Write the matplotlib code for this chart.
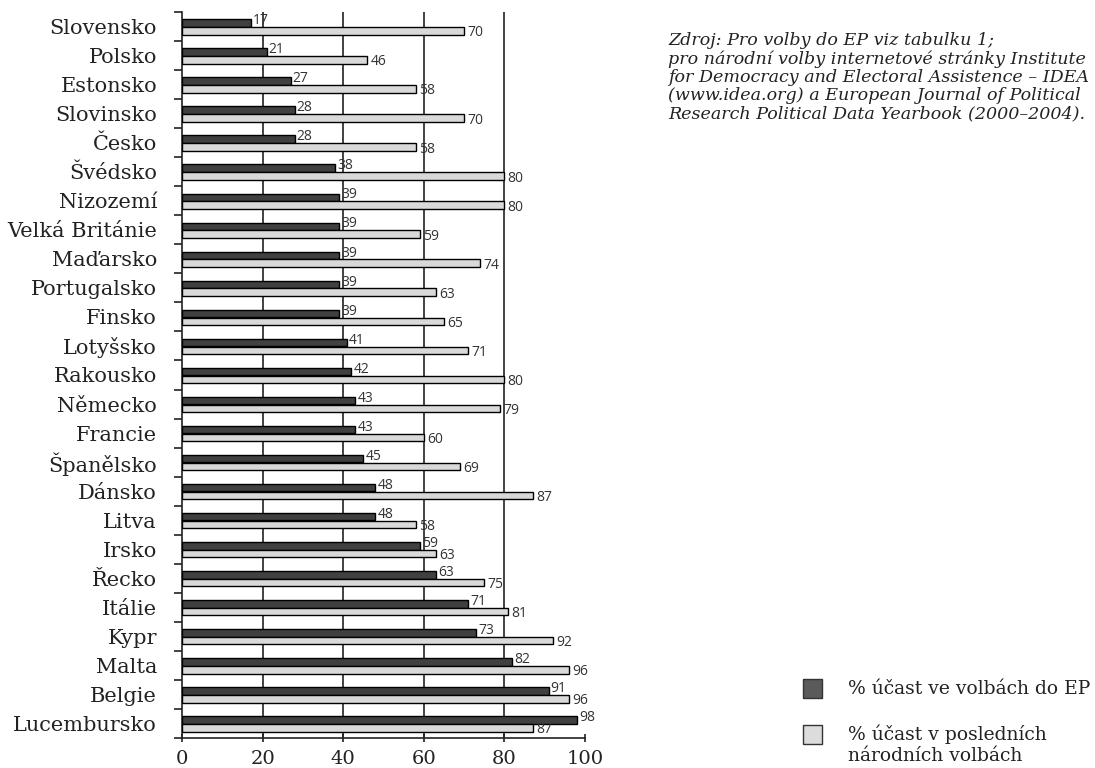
import numpy as np
import matplotlib.pyplot as plt

# data
countries = ['Slovensko', 'Polsko', 'Estonsko', 'Slovinsko', 'Česko', 'Švédsko',
             'Nizozemí', 'Velká Británie', 'Maďarsko', 'Portugalsko', 'Finsko',
             'Lotyšsko', 'Rakousko', 'Německo', 'Francie', 'Španělsko', 'Dánsko',
             'Litva', 'Irsko', 'Řecko', 'Itálie', 'Kypr', 'Malta', 'Belgie',
             'Lucembursko']
ep_turnout = [17, 21, 27, 28, 28, 38, 39, 39, 39, 39, 39, 41, 42, 43, 43, 45,
              48, 48, 59, 63, 71, 73, 82, 91, 98]
national_turnout = [70, 46, 58, 70, 58, 80, 80, 59, 74, 63, 65, 71, 80, 79, 60,
                    69, 87, 58, 63, 75, 81, 92, 96, 96, 87]
xticks = [0, 20, 40, 60, 80, 100]

dark = '#404040'
light = '#d9d9d9'
serif = 'DejaVu Serif'

fig = plt.figure(figsize=(10.95, 7.68), dpi=100)
ax = fig.add_axes([182/1095, 1-738/768, (585-182)/1095, (738-12)/768])

y = np.arange(len(countries))
h = 0.26
ax.barh(y - 0.12, ep_turnout, height=h, color=dark, edgecolor='black', linewidth=1, zorder=3)
ax.barh(y + 0.15, national_turnout, height=h, color=light, edgecolor='black', linewidth=1, zorder=3)

for i in range(len(countries)):
    ax.text(ep_turnout[i] + 0.5, y[i] - 0.2, str(ep_turnout[i]), fontsize=10,
            family='Open Sans', color='#333333', va='center', ha='left', zorder=4)
    ax.text(national_turnout[i] + 0.8, y[i] + 0.22, str(national_turnout[i]), fontsize=10,
            family='Open Sans', color='#333333', va='center', ha='left', zorder=4)

ax.set_xlim(0, 100)
ax.set_ylim(len(countries) - 0.5, -0.5)

# vertical grid lines
for gx in [20, 40, 60, 80]:
    ax.axvline(gx, color='#222222', linewidth=1.2, zorder=1)

ax.set_yticks(y)
ax.set_yticklabels(countries, family=serif, fontsize=15, color='#222222')
ax.tick_params(axis='y', length=0, pad=18)
ax.set_yticks(np.arange(-0.5, len(countries), 1), minor=True)
ax.tick_params(axis='y', which='minor', length=6, width=1.2, color='#222222')

ax.set_xticks(xticks)
ax.set_xticklabels([str(t) for t in xticks], family=serif, fontsize=14, color='#222222')
ax.tick_params(axis='x', length=6, width=1.2, direction='inout', color='#222222', pad=6)

for s in ['top', 'right']:
    ax.spines[s].set_visible(False)
for s in ['left', 'bottom']:
    ax.spines[s].set_linewidth(1.2)
    ax.spines[s].set_color('#222222')

# source note
source = ("Zdroj: Pro volby do EP viz tabulku 1;\n"
          "pro národní volby internetové stránky Institute\n"
          "for Democracy and Electoral Assistence – IDEA\n"
          "(www.idea.org) a European Journal of Political\n"
          "Research Political Data Yearbook (2000–2004).")
fig.text(668/1095, 1-32/768, source, family=serif, style='italic', fontsize=12.6,
         color='#222222', va='top', ha='left', linespacing=1.1)

# legend
fig.patches.append(plt.Rectangle((803/1095, 1-698/768), 19/1095, 19/768,
                                 transform=fig.transFigure, facecolor='#5a5a5a',
                                 edgecolor='#333333', linewidth=1))
fig.patches.append(plt.Rectangle((803/1095, 1-744/768), 19/1095, 19/768,
                                 transform=fig.transFigure, facecolor='#dcdcdc',
                                 edgecolor='#333333', linewidth=1))
fig.text(848/1095, 1-689/768, '% účast ve volbách do EP', family=serif, fontsize=13.5,
         color='#222222', va='center', ha='left')
fig.text(848/1095, 1-725/768, '% účast v posledních\nnárodních volbách', family=serif,
         fontsize=13.5, color='#222222', va='top', ha='left', linespacing=1.15)

fig.savefig('out.png', dpi=100)
